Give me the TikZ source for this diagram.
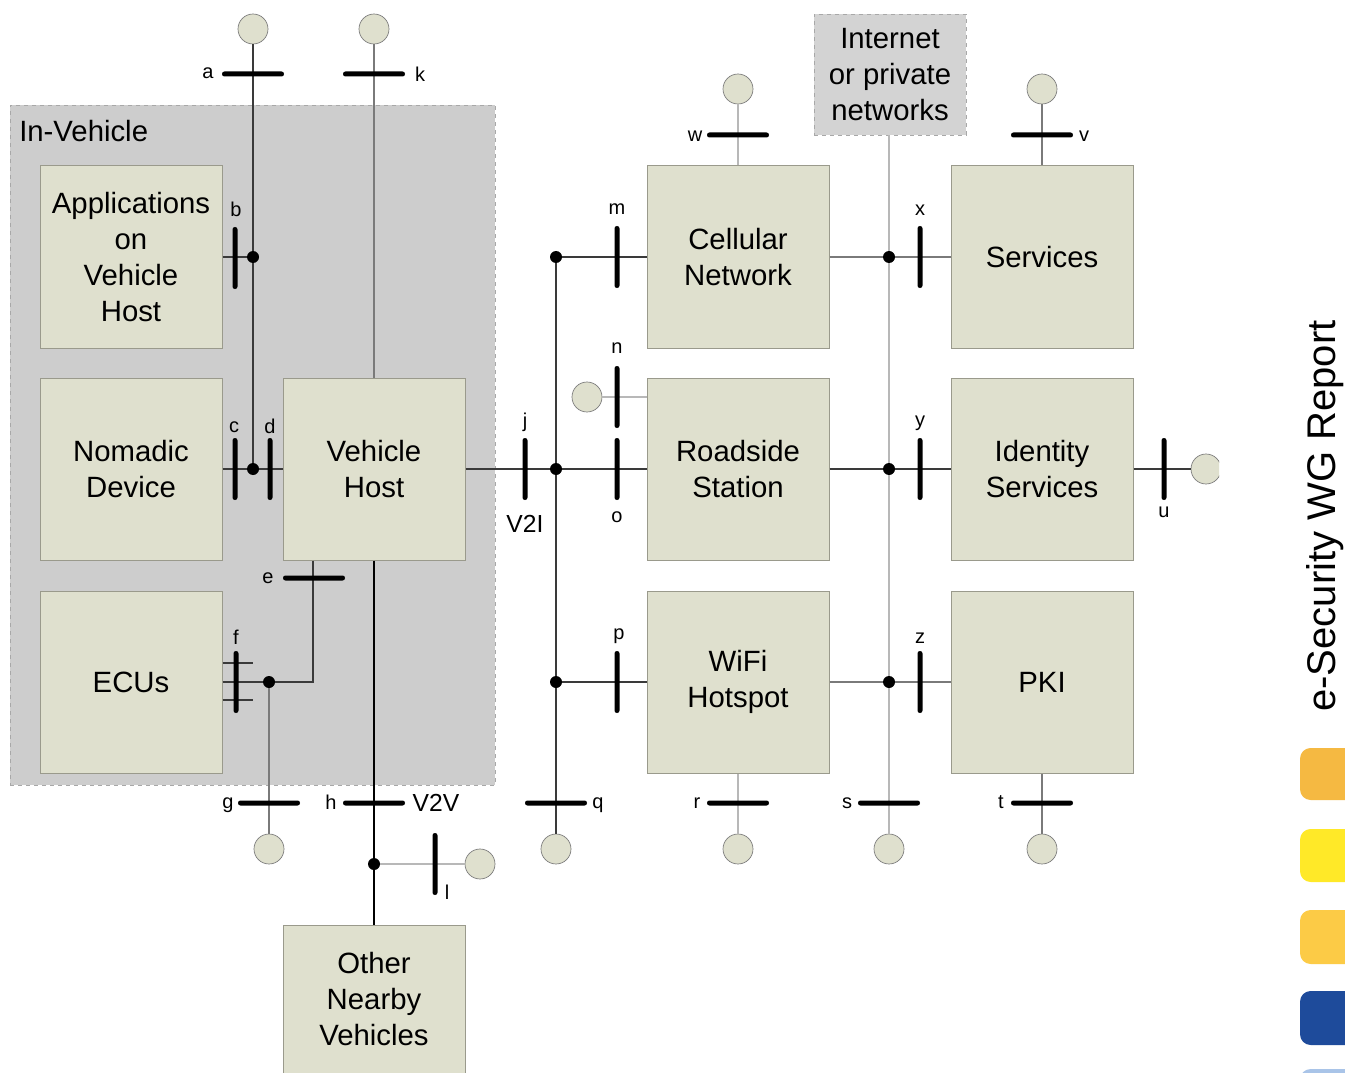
\documentclass[tikz,border=0pt]{standalone}
\usepackage{fontspec}
\setmainfont{Liberation Sans}
\definecolor{boxfill}{HTML}{DFE0CE}
\definecolor{boxline}{HTML}{9A9A8C}
\definecolor{invfill}{HTML}{CDCDCD}
\definecolor{invline}{HTML}{A8A8A8}
\definecolor{inetfill}{HTML}{D3D3D3}
\definecolor{dk}{HTML}{3A3A3A}
\definecolor{md}{HTML}{7A7A7A}
\definecolor{lt}{HTML}{B8B8B8}
\definecolor{corange}{HTML}{F5B942}
\definecolor{cyellow}{HTML}{FFE928}
\definecolor{clorange}{HTML}{FCCB46}
\definecolor{cblue}{HTML}{1E4B9B}
\definecolor{clblue}{HTML}{A9C4E8}
\begin{document}
\begin{tikzpicture}[x=0.75pt,y=-0.75pt,
  gbox/.style={draw=boxline, fill=boxfill, line width=0.75pt, minimum width=136.5pt, minimum height=136.5pt, align=center, inner sep=0pt, font=\fontsize{22}{27}\selectfont},
  term/.style={circle, draw=md, fill=boxfill, line width=0.5pt, minimum size=22.5pt, inner sep=0pt},
  jdot/.style={circle, fill=black, minimum size=9pt, inner sep=0pt},
  vbar/.style={fill=black, rounded corners=1.8pt, minimum width=3.75pt, minimum height=46.5pt, inner sep=0pt},
  hbar/.style={fill=black, rounded corners=1.8pt, minimum width=46.5pt, minimum height=3.75pt, inner sep=0pt},
  lab/.style={inner sep=0pt, font=\fontsize{15}{16}\selectfont},
  biglab/.style={inner sep=0pt, font=\fontsize{18.5}{20}\selectfont},
  dconn/.style={draw=dk, line width=0.8pt},
  mconn/.style={draw=md, line width=0.8pt},
  lconn/.style={draw=lt, line width=0.8pt},
  tconn/.style={draw=black, line width=1.5pt},
]
\useasboundingbox (0,0) rectangle (1345,1073);
\clip (0,0) rectangle (1345,1073);
\fill[white] (0,0) rectangle (1345,1073);

% containers
\node[draw=invline, dashed, fill=invfill, line width=0.6pt, minimum width=363.75pt, minimum height=510pt, inner sep=0pt] (inveh) at (252.5,445) {};
\node[anchor=west, inner sep=0pt, font=\fontsize{22}{27}\selectfont] (invlab) at (19,131) {In-Vehicle};
\node[draw=invline, dashed, fill=inetfill, line width=0.6pt, minimum width=114pt, minimum height=90.75pt, align=center, inner sep=0pt, font=\fontsize{22}{27}\selectfont] (inet) at (890,74.5) {Internet\\or private\\networks};

% boxes
\node[gbox] (app) at (131,257) {Applications\\on\\Vehicle\\Host};
\node[gbox] (nom) at (131,469) {Nomadic\\Device};
\node[gbox] (ecu) at (131,682) {ECUs};
\node[gbox] (vh) at (374,469) {Vehicle\\Host};
\node[gbox, minimum height=111pt] (onv) at (374,999) {Other\\Nearby\\Vehicles};
\node[gbox] (cell) at (738,257) {Cellular\\Network};
\node[gbox] (road) at (738,469) {Roadside\\Station};
\node[gbox] (wifi) at (738,682) {WiFi\\Hotspot};
\node[gbox] (serv) at (1042,257) {Services};
\node[gbox] (ident) at (1042,469) {Identity\\Services};
\node[gbox] (pki) at (1042,682) {PKI};

% terminals
\node[term] (ta) at (253,29) {};
\node[term] (tk) at (374,29) {};
\node[term] (tg) at (269,849) {};
\node[term] (tl) at (480,864) {};
\node[term] (tq) at (556,849) {};
\node[term] (tn) at (587,397) {};
\node[term] (tw) at (738,89) {};
\node[term] (tr) at (738,849) {};
\node[term] (ts) at (889,849) {};
\node[term] (tv) at (1042,89) {};
\node[term] (tt) at (1042,849) {};
\begin{scope}
\clip (1100,440) rectangle (1219,500);
\node[term] (tu) at (1206,469) {};
\end{scope}

% junction dots
\node[jdot] (db) at (253,257) {};
\node[jdot] (dcd) at (253,469) {};
\node[jdot] (df) at (269,682) {};
\node[jdot] (dh) at (374,864) {};
\node[jdot] (dm) at (556,257) {};
\node[jdot] (dj) at (556,469) {};
\node[jdot] (dp) at (556,682) {};
\node[jdot] (dx) at (889,257) {};
\node[jdot] (dy) at (889,469) {};
\node[jdot] (dz) at (889,682) {};
\coordinate (ecorner) at (313,682);

% connectors
\draw[dconn] (ta) -- (db);
\draw[dconn] (db) -- (dcd);
\draw[mconn] (tk) -- (vh.north);
\draw[dconn] (app.east) -- (db);
\draw[dconn] (nom.east) -- (dcd);
\draw[dconn] (dcd) -- (vh.west);
\draw[dconn] (vh.south -| ecorner) -- (ecorner) -- (df);
\draw[dconn] (ecu.east) -- (df);
\draw[dconn] ([yshift=14.25pt]ecu.east) -- ++(30,0);
\draw[dconn] ([yshift=-13.5pt]ecu.east) -- ++(30,0);
\draw[md, line width=0.8pt] (df) -- (tg);
\draw[tconn] (vh.south) -- (dh);
\draw[tconn] (dh) -- (onv.north);
\draw[lconn] (dh) -- (tl);
\draw[dconn] (vh.east) -- (dj);
\draw[dconn] (dm) -- (dj);
\draw[dconn] (dj) -- (dp);
\draw[dconn] (dp) -- (tq);
\draw[dconn] (dm) -- (cell.west);
\draw[dconn] (dj) -- (road.west);
\draw[dconn] (dp) -- (wifi.west);
\draw[lconn] (tn) -- (road.west |- tn);
\draw[lconn] (tw) -- (cell.north);
\draw[lconn] (wifi.south) -- (tr);
\draw[lconn] (inet.south -| dx) -- (dx);
\draw[lconn] (dx) -- (dy);
\draw[lconn] (dy) -- (dz);
\draw[lconn] (dz) -- (ts);
\draw[mconn] (cell.east) -- (dx);
\draw[mconn] (dx) -- (serv.west);
\draw[dconn] (road.east) -- (dy);
\draw[dconn] (dy) -- (ident.west);
\draw[mconn] (wifi.east) -- (dz);
\draw[mconn] (dz) -- (pki.west);
\draw[mconn] (tv) -- (serv.north);
\draw[mconn] (pki.south) -- (tt);
\draw[dconn] (ident.east) -- (tu.west);

% bars
\node[hbar] (ba) at (253,74) {};
\node[hbar] (bk) at (374,74) {};
\node[vbar] (bb) at (235,258) {};
\node[vbar] (bc) at (235,469) {};
\node[vbar] (bd) at (270,469) {};
\node[hbar] (be) at (314,578) {};
\node[vbar] (bf) at (236,682) {};
\node[hbar] (bg) at (269,803) {};
\node[hbar] (bh) at (374,803) {};
\node[vbar] (bl) at (435,864) {};
\node[vbar] (bj) at (525,469) {};
\node[vbar] (bm) at (617,257) {};
\node[vbar] (bn) at (617,397) {};
\node[vbar] (bo) at (617,469) {};
\node[vbar] (bp) at (617,682) {};
\node[hbar] (bq) at (556,803) {};
\node[hbar] (bw) at (738,135) {};
\node[hbar] (br) at (738,803) {};
\node[hbar] (bs) at (889,803) {};
\node[vbar] (bx) at (920,257) {};
\node[vbar] (by) at (920,469) {};
\node[vbar] (bz) at (920,682) {};
\node[hbar] (bv) at (1042,135) {};
\node[hbar] (bt) at (1042,803) {};
\node[vbar] (bu) at (1164,469) {};

% labels
\node[lab] (la) at (208,73) {a};
\node[lab] (lk) at (420,74) {k};
\node[lab] (lb) at (236,209) {b};
\node[lab] (lc) at (234,427) {c};
\node[lab] (ld) at (270,426) {d};
\node[lab] (le) at (268,578) {e};
\node[lab] (lf) at (236,637) {f};
\node[lab] (lg) at (228,805) {g};
\node[lab] (lh) at (331,802) {h};
\node[biglab] (lv2v) at (436,803) {V2V};
\node[lab] (ll) at (447,892) {l};
\node[lab] (lj) at (525,422) {j};
\node[biglab] (lv2i) at (525,524) {V2I};
\node[lab] (lm) at (617,209) {m};
\node[lab] (ln) at (617,348) {n};
\node[lab] (lo) at (617,517) {o};
\node[lab] (lp) at (619,636) {p};
\node[lab] (lq) at (598,805) {q};
\node[lab] (lw) at (695,136) {w};
\node[lab] (lr) at (697,803) {r};
\node[lab] (ls) at (847,803) {s};
\node[lab] (lt) at (1001,802) {t};
\node[lab] (lv) at (1084,136) {v};
\node[lab] (lx) at (920,210) {x};
\node[lab] (ly) at (920,423) {y};
\node[lab] (lz) at (920,638) {z};
\node[lab] (lu) at (1164,512) {u};

% side title and colour tabs
\node[rotate=90, inner sep=0pt, font=\fontsize{30}{32}\selectfont] (title) at (1325,516) {e-Security WG Report};
\fill[corange, rounded corners=8pt] (1300,748) rectangle (1370,800);
\fill[cyellow, rounded corners=8pt] (1300,829) rectangle (1370,882);
\fill[clorange, rounded corners=8pt] (1300,910) rectangle (1370,964);
\fill[cblue, rounded corners=8pt] (1300,991) rectangle (1370,1045);
\fill[clblue, rounded corners=8pt] (1300,1069) rectangle (1370,1120);
\end{tikzpicture}
\end{document}
